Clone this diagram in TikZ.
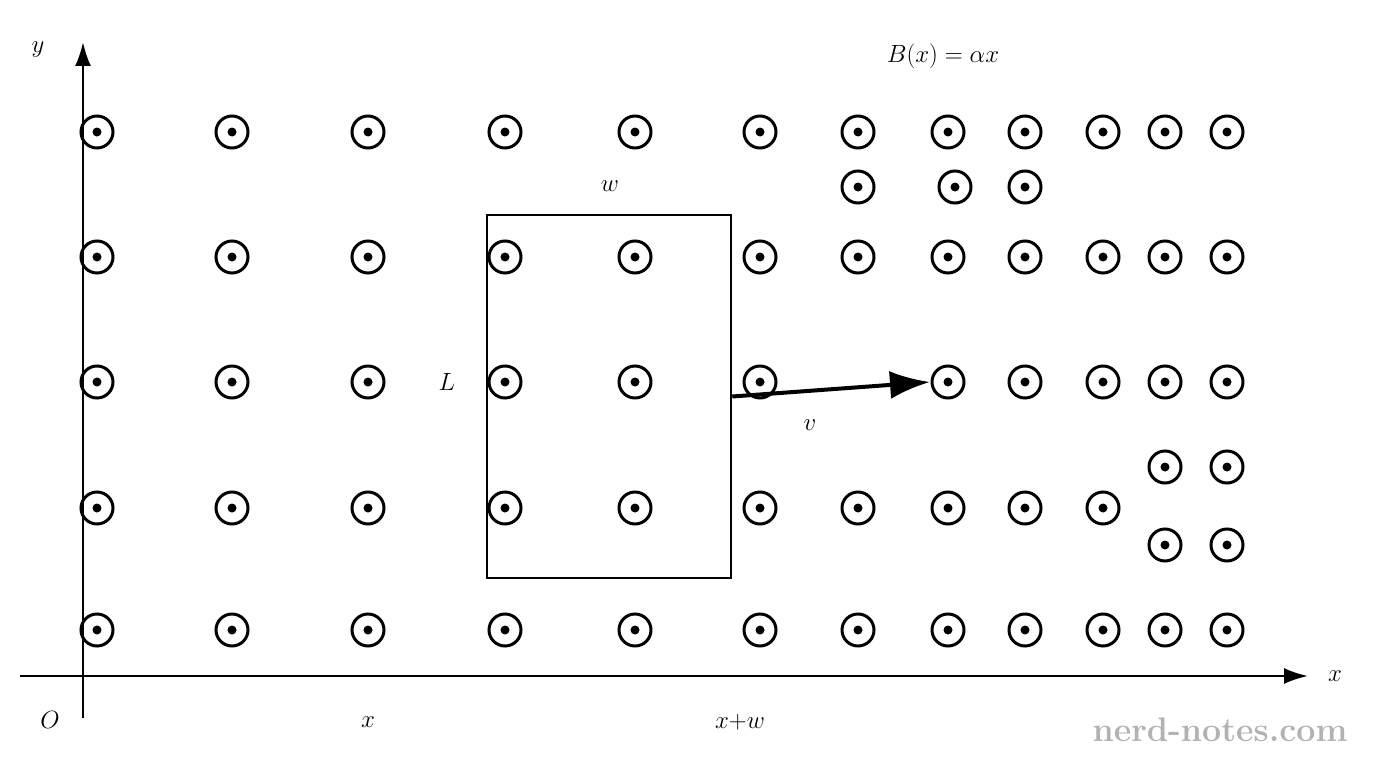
\documentclass[tikz,border=0pt]{standalone}
\usetikzlibrary{arrows.meta}
\begin{document}
\begin{tikzpicture}[x=1pt,y=-1pt,
  fld/.style={circle,draw,line width=3pt,minimum size=32pt,inner sep=0pt},
  lbl/.style={font=\fontsize{44}{50}\selectfont},
  ax/.style={line width=2.5pt,-{Latex[length=24pt,width=16pt]}}]
\useasboundingbox (0,0) rectangle (1376,768);
\newcommand{\fd}[3]{\node[fld] (#1) at (#2,#3) {}; \fill (#2,#3) circle (4.5pt);}
\foreach \y [count=\r] in {132,257,630}{
 \foreach \x [count=\c] in {97,232,368,505,635,760,858,948,1025,1103,1165,1227}{\fd{a\r-\c}{\x}{\y}}}
\foreach \x [count=\c] in {858,955,1025}{\fd{e\c}{\x}{187}}
\foreach \x [count=\c] in {97,232,368,505,635,760,948,1025,1103,1165,1227}{\fd{m\c}{\x}{382}}
\foreach \x [count=\c] in {97,232,368,505,635,760,858,948,1025,1103}{\fd{n\c}{\x}{508}}
\foreach \x [count=\c] in {1165,1227}{\fd{p\c}{\x}{467}\fd{q\c}{\x}{545}}
\coordinate (yb) at (83,718); \coordinate (yt) at (83,42);
\coordinate (xl) at (20,676); \coordinate (xr) at (1308,676);
\draw[ax] (yb) -- (yt);
\draw[ax] (xl) -- (xr);
\node[draw,line width=2.5pt,minimum width=244pt,minimum height=363pt,inner sep=0pt] (loop) at (609,396.5) {};
\coordinate (vend) at (930,382);
\draw[line width=4pt,-{Latex[length=40pt,width=28pt]}] (loop.east) -- (vend);
\node[lbl] (ly) at (38,50) {$y$};
\node[lbl] (lx) at (1335,676) {$x$};
\node[lbl] (lO) at (50,720) {$O$};
\node[lbl] (lx1) at (368,722) {$x$};
\node[lbl] (lxw) at (740,722) {$x{+}w$};
\node[lbl] (lw) at (610,186) {$w$};
\node[lbl] (lL) at (447,382) {$L$};
\node[lbl] (lv) at (810,425) {$v$};
\node[lbl] (lB) at (943,56) {$B(x)=\alpha x$};
\node[font=\fontsize{34}{40}\selectfont\bfseries,text=black!30] (wm) at (1220,730) {nerd-notes.com};
\end{tikzpicture}
\end{document}
